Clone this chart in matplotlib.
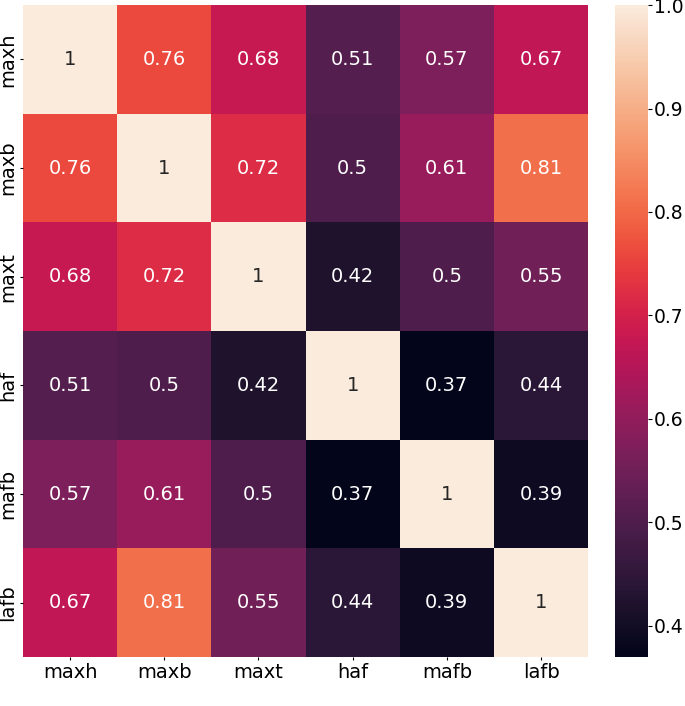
import numpy as np
import pandas as pd
import seaborn as sns
import matplotlib
matplotlib.use("Agg")
from matplotlib import pyplot as plt

labels = ["maxh", "maxb", "maxt", "haf", "mafb", "lafb"]
corr = [
    [1.00, 0.76, 0.68, 0.51, 0.57, 0.67],
    [0.76, 1.00, 0.72, 0.50, 0.61, 0.81],
    [0.68, 0.72, 1.00, 0.42, 0.50, 0.55],
    [0.51, 0.50, 0.42, 1.00, 0.37, 0.44],
    [0.57, 0.61, 0.50, 0.37, 1.00, 0.39],
    [0.67, 0.81, 0.55, 0.44, 0.39, 1.00],
]

df = pd.DataFrame(corr, index=labels, columns=labels)

fig = plt.figure(figsize=(6.85, 7.06), dpi=100)
ax = fig.add_axes([0.0336, 0.0694, 0.825, 0.9235])
cax = fig.add_axes([0.898, 0.0694, 0.048, 0.9235])

sns.heatmap(df, annot=True, ax=ax, cbar_ax=cax, annot_kws={"fontsize": 14})
ax.tick_params(axis="both", labelsize=14, length=2, pad=2)
cax.tick_params(labelsize=13.5, length=3, pad=1)

fig.savefig("out.png", dpi=100)
